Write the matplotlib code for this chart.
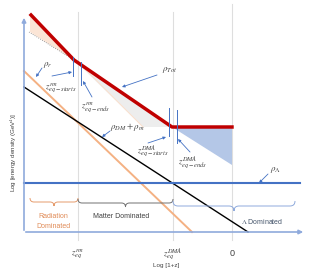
# Schematic: energy density vs Log[1+z]
import numpy as np
import matplotlib.pyplot as plt
from matplotlib.path import Path
from matplotlib.patches import PathPatch, Polygon

plt.rcParams['font.family'] = ['Liberation Sans', 'DejaVu Sans']
plt.rcParams['mathtext.fontset'] = 'stix'

# schematic coordinates (x: Log[1+z] axis, y: drawn downwards)
x_eq_rm = 78
x_eq_dma = 173
x_zero = 232
x_ticks = [x_eq_rm, x_eq_dma, x_zero]
x_tick_labels = [r'$z^{rm}_{eq}$', r'$z^{DMA}_{eq}$', '0']

rad_x = [24, 192]
rad_y = [71, 232]
mat_x = [24, 248]
mat_y = [87, 232]
lam_x = [24, 300]
lam_y = [183, 183]
tot_x = [31, 74, 172, 232]
tot_y = [15, 60, 127, 127]
dash_x = [29, 74]
dash_y = [32, 60]
peach_fill = [(30, 15), (74, 60), (30, 32)]
gray_fill = [(74, 60), (172, 127), (143, 127)]
blue_fill = [(172, 127), (232, 127), (232, 165)]
orange_edge_x = [78, 143]
orange_edge_y = [62, 127]

# blue tick marks at the equality epochs (x, y_top, y_bottom)
eq_marks = [(73, 57, 76), (81, 62, 85), (169, 108, 136), (177, 110, 143)]

# labels: (text, x, y, arrow start, arrow end)
notes = [
    (r'$\rho_r$', 48, 65, (42, 68), (36, 77)),
    (r'$z^{rm}_{eq-starts}$', 61, 88, (52, 76), (72, 72)),
    (r'$z^{rm}_{eq-ends}$', 96, 107, (92, 97), (83, 81)),
    (r'$\rho_{Tot}$', 170, 70, (157, 75), (122, 87)),
    (r'$\rho_{DM}+\rho_m$', 127, 127, (110, 131), (102, 137)),
    (r'$z^{DMA}_{eq-starts}$', 153, 151, (148, 143), (166, 137)),
    (r'$z^{DMA}_{eq-ends}$', 193, 163, (190, 152), (178, 139)),
    (r'$\rho_\Lambda$', 276, 170, (268, 174), (259, 183)),
]

fig = plt.figure(figsize=(3.33, 2.77), dpi=100)
ax = fig.add_axes([0, 0, 1, 1])
ax.set_xlim(0, 333)
ax.set_ylim(277, 0)
ax.axis('off')

blue = '#4472c4'
txt = '#404040'

# grey guide lines
for xv, top in zip(x_ticks, [12, 12, 4]):
    ax.plot([xv, xv], [top, 240], color='#dedede', lw=0.8, zorder=1)

# fills
ax.add_patch(Polygon(peach_fill, closed=True, fc='#fbe5d6', ec='none', zorder=2))
ax.add_patch(Polygon(gray_fill, closed=True, fc='#ededed', ec='none', zorder=2))
ax.add_patch(Polygon(blue_fill, closed=True, fc='#b4c7e7', ec='none', zorder=2))
ax.plot(dash_x, dash_y, color='#808080', lw=0.6, ls=':', zorder=3)
ax.plot(orange_edge_x, orange_edge_y, color='#fbe0cc', lw=0.7, zorder=3)

# density lines
ax.plot(rad_x, rad_y, color='#f4b183', lw=1.4, zorder=4)
ax.plot(mat_x, mat_y, color='black', lw=1.0, zorder=4)
ax.plot(lam_x, lam_y, color=blue, lw=1.5, zorder=4)
ax.plot(tot_x, tot_y, color='#c00000', lw=2.5, zorder=5)

# axes with arrows
ax.annotate('', xy=(24, 15), xytext=(24, 233),
            arrowprops=dict(arrowstyle='-|>', color='#8faadc', lw=1.2,
                            mutation_scale=6), zorder=6)
ax.annotate('', xy=(306, 232), xytext=(23, 232),
            arrowprops=dict(arrowstyle='-|>', color='#8faadc', lw=1.2,
                            mutation_scale=6), zorder=6)

for xv, y0, y1 in eq_marks:
    ax.plot([xv, xv], [y0, y1], color=blue, lw=0.7, zorder=6)

for label, tx, ty, a0, a1 in notes:
    ax.text(tx, ty, label, fontsize=6.5, color=txt, ha='center', va='center', zorder=7)
    ax.annotate('', xy=a1, xytext=a0,
                arrowprops=dict(arrowstyle='-|>', color=blue, lw=0.6,
                                mutation_scale=4, shrinkA=0, shrinkB=0), zorder=7)


def brace(x0, x1, y, h, color):
    r = h / 2
    xm = (x0 + x1) / 2
    verts = [(x0, y), (x0, y + r), (x0 + r, y + r), (xm - r, y + r),
             (xm, y + r), (xm, y + 2 * r),
             (xm, y + r), (xm + r, y + r), (x1 - r, y + r),
             (x1, y + r), (x1, y)]
    codes = [Path.MOVETO, Path.CURVE3, Path.CURVE3, Path.LINETO,
             Path.CURVE3, Path.CURVE3,
             Path.CURVE3, Path.CURVE3, Path.LINETO,
             Path.CURVE3, Path.CURVE3]
    ax.add_patch(PathPatch(Path(verts, codes), fc='none', ec=color, lw=0.7, zorder=5))


brace(30, 78, 198, 8, '#e59b6c')
brace(78, 173, 199, 8, '#707070')
brace(173, 295, 201, 10, '#8faadc')

ax.text(53, 217, 'Radiation', fontsize=5, color='#e08a55', ha='center', va='center')
ax.text(53, 227, 'Dominated', fontsize=5, color='#e08a55', ha='center', va='center')
ax.text(121, 217, 'Matter Dominated', fontsize=5, color='#404040', ha='center', va='center')
ax.text(262, 221, r'$\Lambda$ Dominated', fontsize=5, color='#44546a', ha='center', va='center')

for xv, lab in zip(x_ticks, x_tick_labels):
    ax.text(xv, 254, lab, fontsize=6.5, color=txt, ha='center', va='center')
ax.text(166, 266, 'Log [1+z]', fontsize=4.5, color=txt, ha='center', va='center')
ax.text(14, 153, r'Log [energy density (GeV$^4$)]', fontsize=4.5, color=txt,
        ha='center', va='center', rotation=90)

plt.savefig('out.png', dpi=100)
